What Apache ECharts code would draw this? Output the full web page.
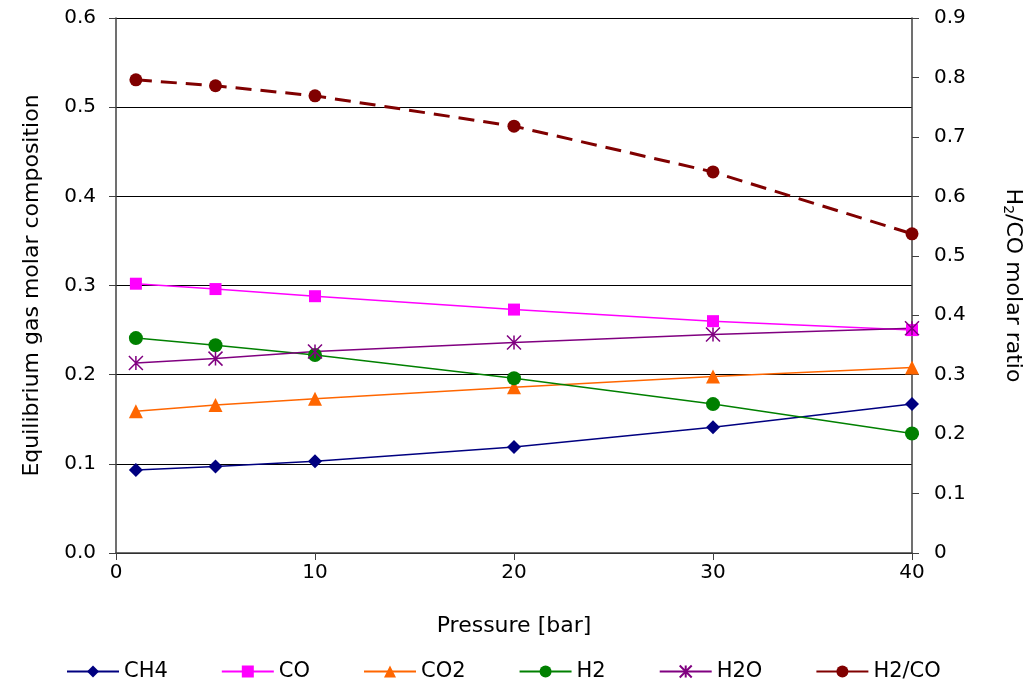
<!DOCTYPE html>
<html>
<head>
<meta charset="utf-8">
<script src="https://cdn.jsdelivr.net/npm/echarts@6/dist/echarts.min.js"></script>
<style>
  html, body { margin: 0; padding: 0; background: #fff; }
  #chart { width: 1029px; height: 692px; }
</style>
</head>
<body>
<div id="chart"></div>
<script>
// pressure [bar]
const pressure = [1, 5, 10, 20, 30, 40]

// equilibrium molar fractions (left axis)
const ch4 = [0.093, 0.097, 0.103, 0.119, 0.141, 0.167]
const co = [0.302, 0.296, 0.288, 0.273, 0.260, 0.250]
const co2 = [0.159, 0.166, 0.173, 0.186, 0.198, 0.208]
const h2 = [0.241, 0.233, 0.222, 0.196, 0.167, 0.134]
const h2o = [0.213, 0.218, 0.226, 0.236, 0.245, 0.252]

// H2/CO ratio (right axis)
const h2coRatio = [0.796, 0.786, 0.769, 0.718, 0.641, 0.537]

const font = 'DejaVu Sans'
const asterisk = 'path://M0 0L10 10M10 0L0 10M5 0L5 10'

function pairs(values) {
  return pressure.map((p, i) => [p, values[i]])
}

function gasSeries(name, values, color, symbol, size) {
  return {
    name,
    type: 'line',
    data: pairs(values),
    symbol,
    symbolSize: size,
    lineStyle: { color, width: 1.5 },
    itemStyle: { color },
    emphasis: { disabled: true },
    z: 3,
  }
}

const chart = echarts.init(document.getElementById('chart'))

const axisText = { color: '#000', fontFamily: font, fontSize: 20 }
const axisLine = { show: true, lineStyle: { color: '#404040', width: 1.5 } }
const axisTick = { show: true, length: 7, lineStyle: { color: '#404040' } }

chart.setOption({
  animation: false,
  textStyle: { fontFamily: font },
  grid: { left: 116, right: 117, top: 18, bottom: 139, outerBoundsMode: 'none' },
  legend: {
    left: 61,
    top: 656,
    itemWidth: 52,
    itemHeight: 15,
    itemGap: 53,
    textStyle: { color: '#000', fontFamily: font, fontSize: 21 },
    data: [
      { name: 'CH4' },
      { name: 'CO' },
      { name: 'CO2' },
      { name: 'H2' },
      { name: 'H2O' },
      { name: 'H2/CO', lineStyle: { type: 'solid' } },
    ],
  },
  xAxis: {
    type: 'value',
    min: 0,
    max: 40,
    interval: 10,
    name: 'Pressure [bar]',
    nameLocation: 'middle',
    nameGap: 62,
    nameTextStyle: { color: '#000', fontFamily: font, fontSize: 22 },
    axisLine,
    axisTick,
    axisLabel: { ...axisText, margin: 10 },
    splitLine: { show: false },
  },
  yAxis: [
    {
      type: 'value',
      min: 0,
      max: 0.6,
      interval: 0.1,
      name: 'Equilibrium gas molar composition',
      nameLocation: 'middle',
      nameGap: 73,
      nameTextStyle: { color: '#000', fontFamily: font, fontSize: 22 },
      axisLine,
      axisTick,
      axisLabel: { ...axisText, margin: 20, formatter: (v) => v.toFixed(1) },
      splitLine: { show: true, lineStyle: { color: '#000', width: 1 } },
    },
    {
      type: 'value',
      min: 0,
      max: 0.9,
      interval: 0.1,
      position: 'right',
      name: '{n|H}{s|2}{n|/CO molar ratio}',
      nameLocation: 'middle',
      nameGap: 89,
      nameRotate: -90,
      nameTextStyle: {
        color: '#000',
        fontFamily: font,
        rich: {
          n: { fontSize: 22, fontFamily: font, color: '#000' },
          s: { fontSize: 14, fontFamily: font, color: '#000', verticalAlign: 'bottom', padding: [10, 0, 0, 0] },
        },
      },
      axisLine,
      axisTick,
      axisLabel: { ...axisText, margin: 22, formatter: (v) => (v === 0 ? '0' : v.toFixed(1)) },
      splitLine: { show: false },
    },
  ],
  series: [
    gasSeries('CH4', ch4, '#000080', 'diamond', 14),
    gasSeries('CO', co, '#ff00ff', 'rect', 12),
    gasSeries('CO2', co2, '#ff6600', 'triangle', 14),
    gasSeries('H2', h2, '#008000', 'circle', 14),
    {
      name: 'H2O',
      type: 'line',
      data: pairs(h2o),
      symbol: asterisk,
      symbolSize: 14,
      lineStyle: { color: '#800080', width: 1.5 },
      itemStyle: { color: 'none', borderColor: '#800080', borderWidth: 1.5 },
      emphasis: { disabled: true },
      z: 3,
    },
    {
      name: 'H2/CO',
      type: 'line',
      yAxisIndex: 1,
      data: pairs(h2coRatio),
      symbol: 'circle',
      symbolSize: 13,
      lineStyle: { color: '#800000', width: 3, type: [16, 9] },
      itemStyle: { color: '#800000' },
      emphasis: { disabled: true },
      z: 3,
    },
  ],
})
</script>
</body>
</html>
